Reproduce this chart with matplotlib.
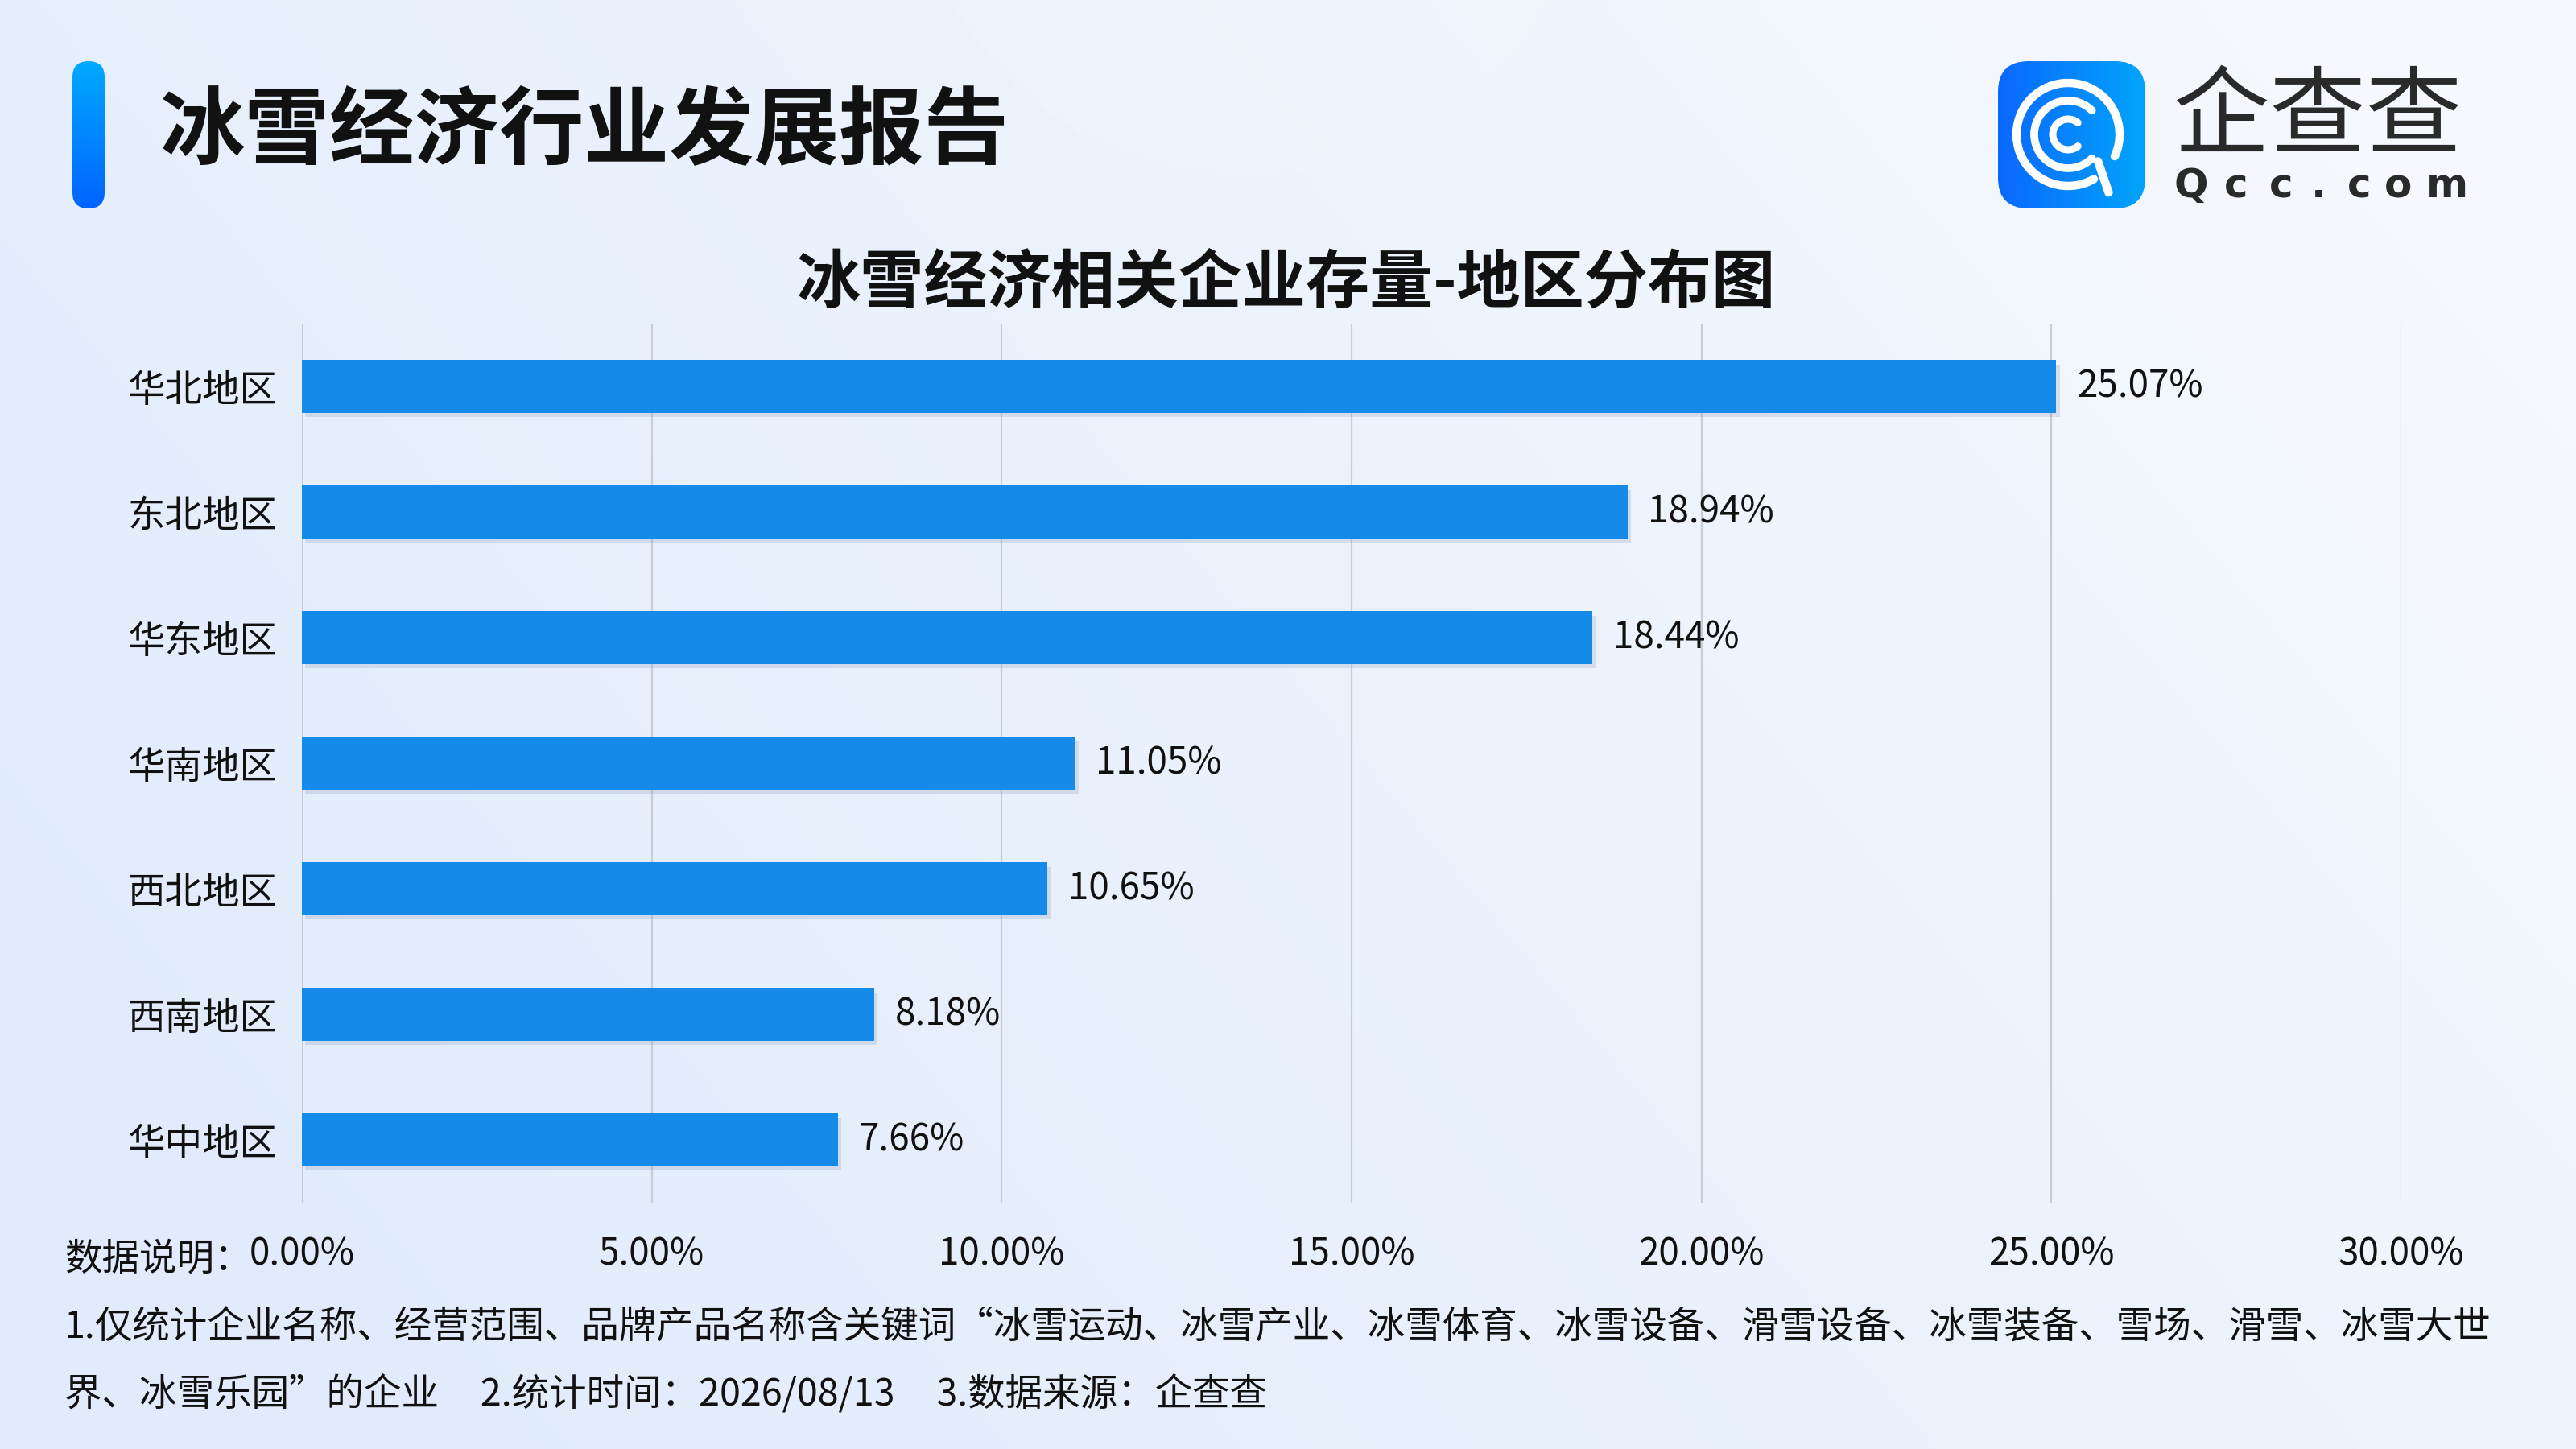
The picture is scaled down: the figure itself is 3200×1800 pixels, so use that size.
import numpy as np
import matplotlib
matplotlib.use('Agg')
from matplotlib import pyplot as plt
from matplotlib import patches
from matplotlib import patheffects
from matplotlib.colors import LinearSegmentedColormap

plt.rcParams['font.family'] = ['Noto Sans CJK SC', 'DejaVu Sans']

# data
regions = ['华北地区', '东北地区', '华东地区', '华南地区', '西北地区', '西南地区', '华中地区']
shares = [25.07, 18.94, 18.44, 11.05, 10.65, 8.18, 7.66]
xticks = [0, 5, 10, 15, 20, 25, 30]

title = '冰雪经济行业发展报告'
chart_title = '冰雪经济相关企业存量-地区分布图'
note_head = '数据说明：'
note_1 = '1.仅统计企业名称、经营范围、品牌产品名称含关键词“冰雪运动、冰雪产业、冰雪体育、冰雪设备、滑雪设备、冰雪装备、雪场、滑雪、冰雪大世'
note_2 = '界、冰雪乐园”的企业     2.统计时间：2026/08/13     3.数据来源：企查查'

W, H = 3200, 1800
fig = plt.figure(figsize=(32, 18), dpi=100)

# background + decorations, pixel coords with y going down
deco = fig.add_axes([0, 0, 1, 1], zorder=0)
deco.axis('off')

yy, xx = np.mgrid[0:1:180j, 0:1:320j]
c_blue = np.array([0.885, 0.925, 0.985])
c_white = np.array([0.975, 0.983, 0.998])
t = np.clip(0.75 * xx + 0.35 * (1 - yy) - 0.15, 0, 1)
bg = c_blue[None, None, :] * (1 - t[..., None]) + c_white[None, None, :] * t[..., None]
deco.imshow(bg, extent=[0, W, H, 0], aspect='auto', interpolation='bicubic')

# faint light blob near the top
blob = patches.Circle((1550, -200), 420, facecolor='white', alpha=0.12, edgecolor='none')
deco.add_patch(blob)

# accent bar
bar_cmap = LinearSegmentedColormap.from_list('acc', ['#00a9ff', '#0064ff'])
acc = patches.FancyBboxPatch((90, 76), 40, 183, boxstyle='round,pad=0,rounding_size=20',
                             facecolor='none', edgecolor='none')
deco.add_patch(acc)
im = deco.imshow(np.linspace(0, 1, 100)[:, None], cmap=bar_cmap, extent=[90, 130, 259, 76],
                 aspect='auto')
im.set_clip_path(acc)

deco.text(199, 165, title, fontsize=76, fontweight='black', color='#111111',
          ha='left', va='center')

# logo
logo_cmap = LinearSegmentedColormap.from_list('logo', ['#0a68ff', '#02a4fb'])
sq = patches.FancyBboxPatch((2482, 76), 183, 183, boxstyle='round,pad=0,rounding_size=38',
                            facecolor='none', edgecolor='none')
deco.add_patch(sq)
im2 = deco.imshow(np.linspace(0, 1, 100)[None, :], cmap=logo_cmap,
                  extent=[2482, 2665, 259, 76], aspect='auto')
im2.set_clip_path(sq)

cx, cy = 2569, 167
deco.add_patch(patches.Arc((cx, cy), 128, 128, theta1=60, theta2=385, color='white',
                           lw=7.5, capstyle='round'))
deco.add_patch(patches.Arc((cx, cy), 84, 84, theta1=45, theta2=315, color='white',
                           lw=7, capstyle='round'))
deco.add_patch(patches.Arc((cx, cy), 38, 38, theta1=50, theta2=310, color='white',
                           lw=6.5, capstyle='round'))
a1, a2 = np.deg2rad(42), np.deg2rad(55)
deco.plot([cx + 50 * np.cos(a1), cx + 88 * np.cos(a2)],
          [cy + 50 * np.sin(a1), cy + 88 * np.sin(a2)],
          color='white', lw=7.5, solid_capstyle='round')

deco.text(2879, 148, '企查查', fontsize=86, fontweight='medium', color='#2a2a2a',
          ha='center', va='center')
for ch, px in zip('Qcc.com', [2722, 2778, 2834, 2880, 2931, 2979, 3040]):
    deco.text(px, 231, ch, fontsize=36, fontweight='bold', color='#2a2a2a',
              ha='center', va='center', family=['DejaVu Sans'])

deco.text(1598, 352, chart_title, fontsize=57, fontweight='bold', color='#111111',
          ha='center', va='center')

# footnotes
deco.text(80, 1564, note_head, fontsize=33.5, color='#111111', ha='left', va='center')
deco.text(80, 1649, note_1, fontsize=33.5, color='#111111', ha='left', va='center')
deco.text(80, 1733, note_2, fontsize=33.5, color='#111111', ha='left', va='center')

deco.set_xlim(0, W)
deco.set_ylim(H, 0)

# chart
ax = fig.add_axes([375 / W, 1 - 1494 / H, (2983 - 375) / W, (1494 - 402) / H], zorder=1)
ax.set_facecolor('none')
ypos = np.arange(len(regions))
bars = ax.barh(ypos, shares, height=0.417, color='#168ae9', zorder=3)
for b in bars:
    b.set_path_effects([patheffects.SimplePatchShadow(offset=(3, -4), shadow_rgbFace='#7d8fb3',
                                                      alpha=0.22),
                        patheffects.Normal()])

for y, v in zip(ypos, shares):
    ax.annotate(f'{v:.2f}%', (v, y), xytext=(18.5, 0), textcoords='offset points',
                fontsize=33, color='#111111', va='center', ha='left')

ax.set_xlim(0, 30)
ax.set_ylim(len(regions) - 0.5, -0.5)
ax.set_xticks(xticks)
ax.set_xticklabels([f'{v:.2f}%' for v in xticks])
ax.set_yticks(ypos)
ax.set_yticklabels(regions)
ax.tick_params(axis='x', length=0, pad=29, labelsize=33, labelcolor='#111111')
ax.tick_params(axis='y', length=0, pad=22, labelsize=33.5, labelcolor='#111111')
ax.grid(axis='x', color='#c9cdd6', lw=1.6, zorder=0)
ax.set_axisbelow(True)
for s in ax.spines.values():
    s.set_visible(False)

fig.savefig('out.png', dpi=100)
